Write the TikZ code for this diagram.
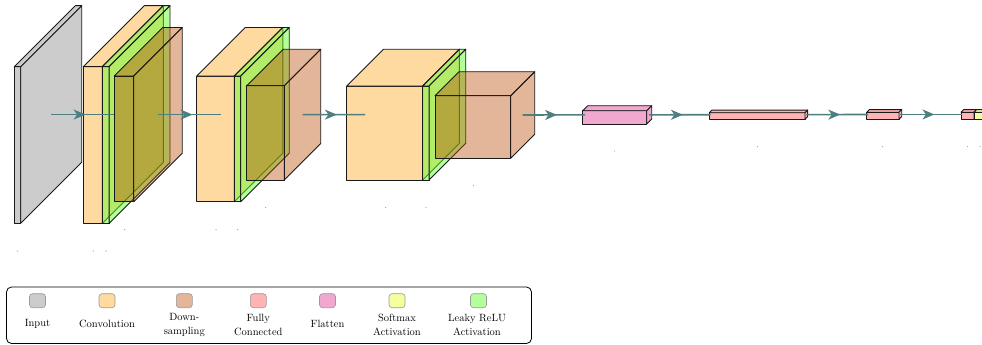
\documentclass[tikz,border=0pt]{standalone}
\usetikzlibrary{arrows.meta,decorations.markings}

% block fills
\definecolor{inputc}{HTML}{CCCCCC}
\definecolor{convc}{HTML}{FFDAA0}
\definecolor{reluc}{RGB}{103,255,51}
\definecolor{poolc}{RGB}{185,70,0}
\definecolor{fcc}{HTML}{FFB3B3}
\definecolor{flatc}{HTML}{F0A8D0}
\definecolor{softc}{HTML}{F4FFA0}
\definecolor{linkc}{HTML}{4D7E80}
% legend swatches
\definecolor{inputk}{HTML}{CCCCCC}
\definecolor{convk}{HTML}{FFDBA0}
\definecolor{poolk}{HTML}{E3B599}
\definecolor{fck}{HTML}{FFB3B3}
\definecolor{flatk}{HTML}{F0A8D0}
\definecolor{softk}{HTML}{F5FFA0}
\definecolor{reluk}{HTML}{B3FF99}

% cuboid: name, x, y (front top-left), width, height, depth, style
\newcommand\cuboid[7]{%
  \filldraw[#7] (#2,#3) -- ({#2+#4},#3) -- ({#2+#4},{#3+#5}) -- (#2,{#3+#5}) -- cycle;
  \filldraw[#7] (#2,#3) -- ({#2+#6},{#3-#6}) -- ({#2+#4+#6},{#3-#6}) -- ({#2+#4},#3) -- cycle;
  \filldraw[#7] ({#2+#4},#3) -- ({#2+#4+#6},{#3-#6}) -- ({#2+#4+#6},{#3+#5-#6}) -- ({#2+#4},{#3+#5}) -- cycle;
  \coordinate (#1-west) at ({#2+#6/2},{#3+#5/2-#6/2});
  \coordinate (#1-east) at ({#2+#4+#6/2},{#3+#5/2-#6/2});
}

\tikzset{
  edge/.style={draw=black!90, line width=0.9pt, line join=round},
  inbox/.style={edge, fill=inputc},
  convbox/.style={edge, fill=convc},
  relubox/.style={edge, fill=reluc, fill opacity=0.5},
  poolbox/.style={edge, fill=poolc, fill opacity=0.4},
  fcbox/.style={edge, fill=fcc},
  flatbox/.style={edge, fill=flatc},
  softbox/.style={edge, fill=softc},
  link/.style={draw=linkc, line width=1.6pt, postaction={decorate},
    decoration={markings, mark=at position 0.55 with
      {\arrow[linkc]{Stealth[length=12pt,width=10pt,inset=3.5pt]}}}},
  speck/.style={fill=black!45},
  swatch/.style={draw=black!40, line width=0.6pt, rounded corners=3pt,
    minimum width=16pt, minimum height=14pt, inner sep=0pt},
  keytext/.style={align=center, inner sep=0pt,
    font=\fontsize{10.5}{13.6}\selectfont}
}

\begin{document}
\begin{tikzpicture}[x=1pt,y=-1pt]
\useasboundingbox (0,0) rectangle (982,345);

% feature-extraction stages
\cuboid{in}{14.3}{66.7}{6.4}{156.7}{61}{inbox}
\cuboid{c1}{83.3}{66.7}{19}{156.7}{61}{convbox}
\cuboid{r1}{102.3}{66.7}{6.7}{156.7}{61}{relubox}
\cuboid{p1}{114.3}{76}{19.4}{125.7}{48.5}{poolbox}

\cuboid{c2}{196.7}{76}{37.6}{125.7}{48.5}{convbox}
\cuboid{r2}{234.3}{76}{6.4}{125.7}{48.5}{relubox}
\cuboid{p2}{246.7}{85.7}{37.6}{94.3}{36.4}{poolbox}

\cuboid{c3}{346.7}{86}{76}{94}{36.7}{convbox}
\cuboid{r3}{422.7}{86}{6.3}{94}{36.7}{relubox}
\cuboid{p3}{435}{95.7}{75.7}{62.6}{24}{poolbox}

% classifier head
\cuboid{fl}{582.7}{110.7}{64}{13.3}{5}{flatbox}
\cuboid{f1}{709.3}{112.7}{95.7}{6.6}{2.6}{fcbox}
\cuboid{f2}{866.7}{112.3}{32.3}{7}{2.7}{fcbox}
\cuboid{f3}{961}{112.3}{13}{7}{2.7}{fcbox}
\cuboid{sm}{974}{112.3}{13}{7}{2.7}{softbox}

% connections
\draw[link] (in-east) -- (c1-west);
\draw[link] (p1-east) -- (c2-west);
\draw[link] (p2-east) -- (c3-west);
\draw[link] (p3-east) -- (fl-west);
\draw[link] (fl-east) -- (f1-west);
\draw[link] (f1-east) -- (f2-west);
\draw[link] (f2-east) -- (f3-west);

% empty caption specks
\foreach \px/\py in {17.7/251, 93.3/251, 106/251, 124.7/229.7, 216/229.7,
  237.7/229.7, 265.7/207.7, 385.7/207.7, 426/207.7, 473.3/185.7,
  614.3/151, 757.3/146.7, 882.7/146.7, 967.7/146.7, 980/146.7}
  \fill[speck] (\px,\py) circle (0.55);

% legend
\draw[line width=0.8pt, rounded corners=5pt] (6.5,287) rectangle (531.5,343.5);
\node[swatch, fill=inputk] (k-in)   at (37.5,300.7) {};
\node[swatch, fill=convk]  (k-conv) at (107,300.7) {};
\node[swatch, fill=poolk]  (k-pool) at (184.3,300.7) {};
\node[swatch, fill=fck]    (k-fc)   at (258.3,300.7) {};
\node[swatch, fill=flatk]  (k-flat) at (327.5,300.7) {};
\node[swatch, fill=softk]  (k-soft) at (397,300.7) {};
\node[swatch, fill=reluk]  (k-relu) at (478.5,300.7) {};

\node[keytext] (t-in)   at (37.5,324) {Input};
\node[keytext] (t-conv) at (107,324) {Convolution};
\node[keytext] (t-pool) at (184.3,325) {Down-\\sampling};
\node[keytext] (t-fc)   at (258.3,325) {Fully\\Connected};
\node[keytext] (t-flat) at (327.5,324) {Flatten};
\node[keytext] (t-soft) at (397,325) {Softmax\\Activation};
\node[keytext] (t-relu) at (477,325) {Leaky ReLU\\Activation};
\end{tikzpicture}
\end{document}
